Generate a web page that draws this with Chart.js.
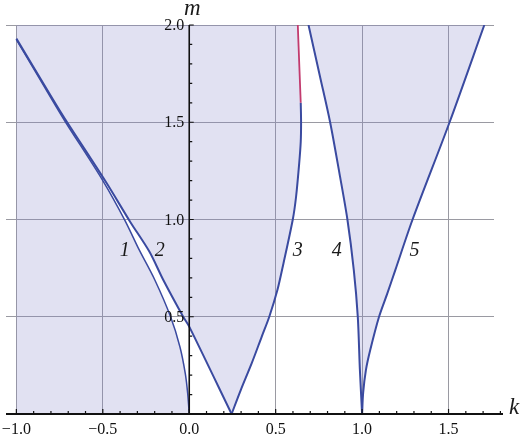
<!DOCTYPE html>
<html>
<head>
<meta charset="utf-8">
<script src="https://cdn.jsdelivr.net/npm/chart.js@4.4.1/dist/chart.umd.min.js"></script>
<style>
  html, body { margin: 0; padding: 0; background: #fff; }
  #wrap { width: 520px; height: 434px; }
</style>
</head>
<body>
<div id="wrap"><canvas id="chart"></canvas></div>
<script>
// tick values and their labels
const xTicks = [-1, -0.5, 0, 0.5, 1, 1.5];
const xTickLabels = ['−1.0', '−0.5', '0.0', '0.5', '1.0', '1.5'];
const yTicks = [0.5, 1, 1.5, 2];
const yTickLabels = ['0.5', '1.0', '1.5', '2.0'];

// curves (k on x, m on y)
const c1k = [-1.0, -0.79, -0.715, -0.5, -0.373, -0.29, -0.199, -0.108, -0.054, -0.023, -0.009, 0];
const c1m = [1.925, 1.61, 1.5, 1.2, 0.997, 0.845, 0.689, 0.5, 0.346, 0.209, 0.106, 0];

const c2k = [-1.0, -0.79, -0.71, -0.48, -0.343, -0.23, -0.15, -0.035, 0, 0.245];
const c2m = [1.93, 1.62, 1.505, 1.19, 0.99, 0.834, 0.689, 0.5, 0.449, 0];

const c3k = [0.245, 0.298, 0.361, 0.419, 0.463, 0.51, 0.545, 0.599, 0.618, 0.636, 0.645, 0.647, 0.645];
const c3m = [0, 0.123, 0.26, 0.397, 0.5, 0.637, 0.774, 1.0, 1.117, 1.288, 1.4, 1.5, 1.6];
// top piece of curve 3 (drawn red)
const c3rk = [0.645, 0.637, 0.628];
const c3rm = [1.6, 1.785, 2.0];

const c4k = [0.69, 0.757, 0.815, 0.869, 0.915, 0.952, 0.975, 0.987, 1.0];
const c4m = [2.0, 1.733, 1.5, 1.237, 1.0, 0.74, 0.5, 0.23, 0];

const c5k = [1.0, 1.006, 1.022, 1.047, 1.098, 1.146, 1.192, 1.292, 1.506, 1.707];
const c5m = [0, 0.108, 0.226, 0.329, 0.5, 0.62, 0.74, 1.0, 1.5, 2.0];

// curve numbers and where they sit
const curveNames = ['1', '2', '3', '4', '5'];
const nameK = [-0.373, -0.17, 0.628, 0.854, 1.303];
const nameM = [0.838, 0.838, 0.838, 0.838, 0.838];

// shaded area starts at k = -1 and goes up to m = 2
const K_LEFT = -1;
const M_TOP = 2;

const pts = (ks, ms) => ks.map((k, i) => ({ x: k, y: ms[i] }));

const BLUE = '#3a4aa0';
const RED = '#c23a6e';
const SHADE = 'rgba(128,128,200,0.24)';
const GRID = '#9a9aa2';
const SERIF = '"Liberation Serif", "DejaVu Serif", serif';

function curve(data, color, width) {
  return { data, borderColor: color, borderWidth: width, pointRadius: 0, showLine: true, fill: false, tension: 0.3 };
}
function region(data) {
  return { data, borderWidth: 0, pointRadius: 0, showLine: true, fill: 'shape', backgroundColor: SHADE, tension: 0 };
}

// axes crossing at the origin, ticks pointing inward, y labels + text
const crossAxes = {
  id: 'crossAxes',
  afterDatasetsDraw(chart) {
    const { ctx, scales: { x, y } } = chart;
    const x0 = x.getPixelForValue(0);
    const y0 = y.getPixelForValue(0);
    ctx.save();
    ctx.strokeStyle = '#111';

    ctx.lineWidth = 2;
    ctx.beginPath();
    ctx.moveTo(x.left, y0);
    ctx.lineTo(x.getPixelForValue(1.815), y0);
    ctx.stroke();

    ctx.lineWidth = 1.6;
    ctx.beginPath();
    ctx.moveTo(x0, y0);
    ctx.lineTo(x0, y.getPixelForValue(M_TOP));
    ctx.stroke();

    ctx.lineWidth = 1.2;
    ctx.beginPath();
    for (let i = -10; i <= 18; i++) {
      const px = x.getPixelForValue(i / 10);
      const len = i % 5 === 0 ? 5 : 3;
      ctx.moveTo(px, y0);
      ctx.lineTo(px, y0 - len);
    }
    for (let i = 1; i <= 20; i++) {
      const py = y.getPixelForValue(i / 10);
      const len = i % 5 === 0 ? 4.5 : 3;
      ctx.moveTo(x0, py);
      ctx.lineTo(x0 + len, py);
    }
    ctx.stroke();

    ctx.fillStyle = '#111';
    ctx.font = '16px ' + SERIF;
    ctx.textAlign = 'right';
    ctx.textBaseline = 'middle';
    yTicks.forEach((v, i) => ctx.fillText(yTickLabels[i], x0 - 5, y.getPixelForValue(v) + 1));

    ctx.fillStyle = '#1a1a1a';
    ctx.textAlign = 'center';
    ctx.font = 'italic 20px ' + SERIF;
    curveNames.forEach((t, i) => {
      ctx.fillText(t, x.getPixelForValue(nameK[i]), y.getPixelForValue(nameM[i]));
    });

    ctx.font = 'italic 23px ' + SERIF;
    ctx.fillText('m', x0 + 3, y.getPixelForValue(M_TOP) - 16);
    ctx.fillText('k', x.getPixelForValue(1.815) + 11, y0 - 6);
    ctx.restore();
  }
};

const noPad = s => { s.paddingLeft = 0; s.paddingRight = 0; s.paddingTop = 0; s.paddingBottom = 0; };

new Chart(document.getElementById('chart'), {
  type: 'scatter',
  data: {
    datasets: [
      curve(pts(c3rk, c3rm), RED, 1.8),
      curve(pts(c1k, c1m), BLUE, 1.5),
      curve(pts(c2k, c2m), BLUE, 2),
      curve(pts(c3k, c3m), BLUE, 2),
      curve(pts(c4k, c4m), BLUE, 2),
      curve(pts(c5k, c5m), BLUE, 2),
      region([{ x: K_LEFT, y: 0 }, ...pts(c1k, c1m)]),
      region([{ x: K_LEFT, y: M_TOP }, ...pts(c2k, c2m), ...pts(c3k, c3m), ...pts(c3rk, c3rm)]),
      region([...pts(c4k, c4m), ...pts(c5k, c5m)])
    ]
  },
  options: {
    responsive: true,
    maintainAspectRatio: false,
    animation: false,
    events: [],
    layout: { padding: { left: 6, right: 26, top: 25, bottom: 20 } },
    plugins: { legend: { display: false }, tooltip: { enabled: false } },
    scales: {
      x: {
        type: 'linear',
        position: { y: 0 },
        min: -1.06,
        max: 1.763,
        afterBuildTicks: s => { s.ticks = xTicks.map(v => ({ value: v })); },
        afterFit: noPad,
        border: { display: false },
        grid: {
          drawTicks: false,
          lineWidth: 1,
          color: c => (c.tick && c.tick.value === 0 ? 'rgba(0,0,0,0)' : GRID)
        },
        ticks: {
          padding: 6,
          color: '#111',
          font: { family: SERIF, size: 16 },
          callback: (v, i) => xTickLabels[i]
        }
      },
      y: {
        type: 'linear',
        position: { x: 0 },
        min: 0,
        max: 2,
        afterBuildTicks: s => { s.ticks = yTicks.map(v => ({ value: v })); },
        afterFit: noPad,
        border: { display: false },
        grid: { drawTicks: false, lineWidth: 1, color: GRID },
        ticks: { display: false }
      }
    }
  },
  plugins: [crossAxes]
});
</script>
</body>
</html>
